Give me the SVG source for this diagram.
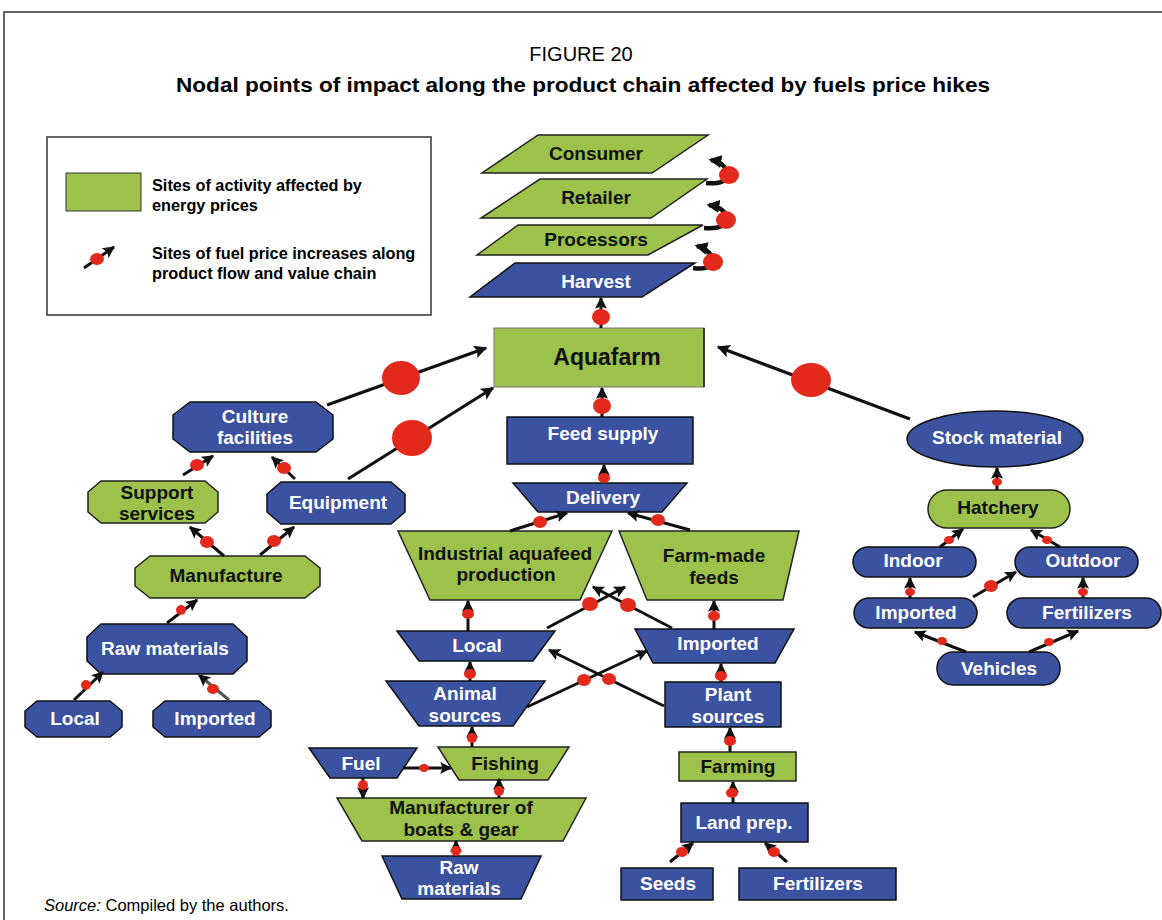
<svg xmlns="http://www.w3.org/2000/svg" width="1162" height="920" viewBox="0 0 1162 920">
<style>
text{font-family:"Liberation Sans",Arial,sans-serif;font-weight:bold;text-anchor:middle}
.t{font-size:19px}
.w{fill:#fff}
.k{fill:#111}
.g{fill:#9DC24B;stroke:#222;stroke-width:1.5}
.b{fill:#3B52A0;stroke:#111;stroke-width:1.5}
.c{stroke:#111;stroke-width:3;fill:none;marker-end:url(#ah)}
.cl{stroke:#111;stroke-width:3.2;fill:none;marker-end:url(#ahL)}
.cc{stroke:#111;stroke-width:4.5;fill:none;marker-end:url(#ahC)}
.d{fill:#E3281C}
</style>
<defs>
<marker id="ah" viewBox="0 0 10 10" refX="9" refY="5" markerWidth="12" markerHeight="12" markerUnits="userSpaceOnUse" orient="auto"><path d="M0,0 L10,5 L0,10 L2,5 z" fill="#111"/></marker>
<marker id="ahL" viewBox="0 0 10 10" refX="9" refY="5" markerWidth="14" markerHeight="13" markerUnits="userSpaceOnUse" orient="auto"><path d="M0,0 L10,5 L0,10 L2,5 z" fill="#111"/></marker>
<marker id="ahC" viewBox="0 0 10 10" refX="8" refY="5" markerWidth="13" markerHeight="13" markerUnits="userSpaceOnUse" orient="auto"><path d="M0,0 L10,5 L0,10 z" fill="#111"/></marker>
</defs>
<rect width="1162" height="920" fill="#fff"/>
<path d="M4,920 L4,12 L1162,12" fill="none" stroke="#333" stroke-width="1.5"/>
<text x="581" y="61" style="font-weight:normal;font-size:20px">FIGURE 20</text>
<text x="583" y="92" style="font-size:21px" textLength="814" lengthAdjust="spacingAndGlyphs">Nodal points of impact along the product chain affected by fuels price hikes</text>

<g id="legend">
<rect x="47" y="137" width="384" height="178" fill="#fff" stroke="#333" stroke-width="1.5"/>
<rect x="66" y="173" width="75" height="38" fill="#9DC24B" stroke="#333" stroke-width="1"/>
<text x="152" y="191" style="font-size:16.3px;text-anchor:start">Sites of activity affected by</text>
<text x="152" y="211" style="font-size:16.3px;text-anchor:start">energy prices</text>
<line x1="84" y1="268" x2="114" y2="247" class="c"/>
<ellipse cx="97" cy="259" rx="7" ry="6" class="d"/>
<text x="152" y="259" style="font-size:16.3px;text-anchor:start">Sites of fuel price increases along</text>
<text x="152" y="279" style="font-size:16.3px;text-anchor:start">product flow and value chain</text>
</g>

<g id="consumer"><path d="M538,135 L708,135 L652,173 L482,173 Z" class="g"/><text x="596" y="160" class="t k">Consumer</text></g>
<g id="retailer"><path d="M540,179 L707,179 L651,218 L481,218 Z" class="g"/><text x="596" y="204" class="t k">Retailer</text></g>
<g id="processors"><path d="M518,225 L703,225 L648,255 L477,255 Z" class="g"/><text x="596" y="246" class="t k">Processors</text></g>
<g id="harvest"><path d="M515,263 L695,263 L642,297 L470,297 Z" class="b"/><text x="596" y="288" class="t w">Harvest</text></g>
<g id="aquafarm"><rect x="494" y="328" width="210" height="59" fill="#9DC24B" stroke="#777" stroke-width="1"/><line x1="704" y1="328" x2="704" y2="387" stroke="#111" stroke-width="1.5"/><text x="607" y="365" class="k" style="font-size:23px">Aquafarm</text></g>
<g id="feed-supply"><rect x="507" y="417" width="186" height="47" class="b"/><text x="603" y="440" class="t w">Feed supply</text></g>
<g id="delivery"><path d="M513,483 L687,483 L662,512 L538,512 Z" class="b"/><text x="603" y="504" class="t w">Delivery</text></g>
<g id="industrial"><path d="M398,531 L612,531 L580,600 L430,600 Z" class="g"/><text x="505" y="560" class="t k">Industrial aquafeed</text><text x="506" y="581" class="t k">production</text></g>
<g id="farm-made"><path d="M619,531 L799,531 L783,600 L647,600 Z" class="g"/><text x="714" y="562" class="t k">Farm-made</text><text x="714" y="584" class="t k">feeds</text></g>
<g id="local-c"><path d="M397,631 L555,631 L533,661 L419,661 Z" class="b"/><text x="477" y="652" class="t w">Local</text></g>
<g id="imported-c"><path d="M635,629 L794,629 L775,663 L653,663 Z" class="b"/><text x="718" y="650" class="t w">Imported</text></g>
<g id="animal"><path d="M386,681 L545,681 L513,726 L419,726 Z" class="b"/><text x="465" y="700" class="t w">Animal</text><text x="465" y="722" class="t w">sources</text></g>
<g id="plant"><rect x="665" y="682" width="116" height="45" class="b"/><text x="728" y="701" class="t w">Plant</text><text x="728" y="723" class="t w">sources</text></g>
<g id="fuel"><path d="M309,748 L417,748 L397,778 L330,778 Z" class="b"/><text x="361" y="770" class="t w">Fuel</text></g>
<g id="fishing"><path d="M438,747 L569,747 L548,780 L459,780 Z" class="g"/><text x="505" y="770" class="t k">Fishing</text></g>
<g id="manufacturer"><path d="M337,798 L586,798 L563,841 L362,841 Z" class="g"/><text x="461" y="814" class="t k">Manufacturer of</text><text x="461" y="836" class="t k">boats &amp; gear</text></g>
<g id="raw-c"><path d="M382,856 L541,856 L521,899 L402,899 Z" class="b"/><text x="459" y="874" class="t w">Raw</text><text x="459" y="895" class="t w">materials</text></g>
<g id="farming"><rect x="679" y="752" width="117" height="29" class="g"/><text x="738" y="773" class="t k">Farming</text></g>
<g id="land-prep"><rect x="681" y="803" width="127" height="39" class="b"/><text x="744" y="829" class="t w">Land prep.</text></g>
<g id="seeds"><rect x="621" y="868" width="92" height="32" class="b"/><text x="668" y="890" class="t w">Seeds</text></g>
<g id="fertilizers-c"><rect x="739" y="868" width="157" height="32" class="b"/><text x="818" y="890" class="t w">Fertilizers</text></g>

<g id="culture"><path d="M190,402 L316,402 L333,415 L333,439 L316,452 L190,452 L173,439 L173,415 Z" class="b"/><text x="255" y="423" class="t w">Culture</text><text x="255" y="444" class="t w">facilities</text></g>
<g id="support"><path d="M101,481 L205,481 L218,492 L218,512 L205,523 L101,523 L88,512 L88,492 Z" class="g"/><text x="157" y="499" class="t k">Support</text><text x="157" y="520" class="t k">services</text></g>
<g id="equipment"><path d="M281,482 L391,482 L405,494 L405,512 L391,524 L281,524 L267,512 L267,494 Z" class="b"/><text x="338" y="509" class="t w">Equipment</text></g>
<g id="manufacture"><path d="M150,556 L305,556 L320,568 L320,586 L305,598 L150,598 L135,586 L135,568 Z" class="g"/><text x="226" y="582" class="t k">Manufacture</text></g>
<g id="raw-l"><path d="M101,624 L233,624 L247,637 L247,661 L233,674 L101,674 L87,661 L87,637 Z" class="b"/><text x="165" y="655" class="t w">Raw materials</text></g>
<g id="local-l"><path d="M37,701 L110,701 L122,711 L122,727 L110,737 L37,737 L25,727 L25,711 Z" class="b"/><text x="75" y="725" class="t w">Local</text></g>
<g id="imported-l"><path d="M165,701 L259,701 L271,711 L271,727 L259,737 L165,737 L153,727 L153,711 Z" class="b"/><text x="215" y="725" class="t w">Imported</text></g>

<g id="stock"><ellipse cx="995" cy="439" rx="88" ry="28" class="b"/><text x="997" y="444" class="t w">Stock material</text></g>
<g id="hatchery"><rect x="928" y="490" width="142" height="38" rx="19" class="g"/><text x="998" y="514" class="t k">Hatchery</text></g>
<g id="indoor"><rect x="853" y="547" width="123" height="30" rx="15" class="b"/><text x="913" y="567" class="t w">Indoor</text></g>
<g id="outdoor"><rect x="1015" y="547" width="123" height="30" rx="15" class="b"/><text x="1083" y="567" class="t w">Outdoor</text></g>
<g id="imported-r"><rect x="854" y="598" width="123" height="30" rx="15" class="b"/><text x="916" y="619" class="t w">Imported</text></g>
<g id="fertilizers-r"><rect x="1007" y="598" width="154" height="30" rx="15" class="b"/><text x="1087" y="619" class="t w">Fertilizers</text></g>
<g id="vehicles"><rect x="937" y="652" width="123" height="33" rx="16" class="b"/><text x="999" y="675" class="t w">Vehicles</text></g>

<g id="connectors">
<path d="M706,183 Q729,185 727,172 Q724,162 711,160" class="cc"/>
<path d="M704,228 Q728,230 726,216 Q723,207 709,205" class="cc"/>
<path d="M693,268 Q714,271 712,258 Q709,249 697,246" class="cc"/>
<line x1="601" y1="328" x2="601" y2="298" class="c"/>
<line x1="602" y1="417" x2="602" y2="388" class="c"/>
<line x1="604" y1="483" x2="604" y2="465" class="c"/>
<line x1="510" y1="531" x2="567" y2="513" class="c"/>
<line x1="690" y1="530" x2="628" y2="513" class="c"/>
<line x1="468" y1="631" x2="468" y2="601" class="c"/>
<line x1="714" y1="629" x2="714" y2="601" class="c"/>
<line x1="547" y1="628" x2="625" y2="587" class="c"/>
<line x1="672" y1="628" x2="593" y2="587" class="c"/>
<line x1="470" y1="681" x2="470" y2="662" class="c"/>
<line x1="721" y1="682" x2="721" y2="664" class="c"/>
<line x1="527" y1="707" x2="647" y2="651" class="c"/>
<line x1="664" y1="706" x2="549" y2="650" class="c"/>
<line x1="403" y1="768" x2="451" y2="768" class="c"/>
<line x1="472" y1="747" x2="472" y2="727" class="c"/>
<line x1="363" y1="778" x2="363" y2="798" class="c"/>
<line x1="499" y1="798" x2="499" y2="779" class="c"/>
<line x1="456" y1="856" x2="456" y2="841" class="c"/>
<line x1="730" y1="752" x2="730" y2="728" class="c"/>
<line x1="733" y1="803" x2="733" y2="782" class="c"/>
<line x1="670" y1="862" x2="693" y2="843" class="c"/>
<line x1="787" y1="862" x2="765" y2="843" class="c"/>
<line x1="183" y1="475" x2="213" y2="456" class="c"/>
<line x1="295" y1="479" x2="272" y2="457" class="c"/>
<line x1="224" y1="556" x2="190" y2="527" class="c"/>
<line x1="260" y1="555" x2="294" y2="527" class="c"/>
<line x1="327" y1="405" x2="486" y2="348" class="cl"/>
<line x1="348" y1="479" x2="493" y2="388" class="cl"/>
<line x1="167" y1="623" x2="197" y2="600" class="c"/>
<line x1="74" y1="700" x2="103" y2="672" class="c"/>
<line x1="229" y1="700" x2="199" y2="675" class="c" style="stroke:#555"/>
<line x1="910" y1="419" x2="718" y2="347" class="cl"/>
<line x1="997" y1="490" x2="997" y2="468" class="c"/>
<line x1="940" y1="547" x2="963" y2="529" class="c"/>
<line x1="1060" y1="547" x2="1031" y2="530" class="c"/>
<line x1="910" y1="598" x2="910" y2="578" class="c"/>
<line x1="1083" y1="598" x2="1083" y2="578" class="c"/>
<line x1="973" y1="597" x2="1016" y2="572" class="c"/>
<line x1="966" y1="652" x2="915" y2="632" class="c"/>
<line x1="1029" y1="652" x2="1078" y2="631" class="c"/>
<ellipse cx="729" cy="175" rx="10" ry="9" class="d"/>
<ellipse cx="726" cy="220" rx="10" ry="9" class="d"/>
<ellipse cx="713" cy="262" rx="10" ry="9" class="d"/>
<ellipse cx="601" cy="317" rx="9" ry="8" class="d"/>
<ellipse cx="602" cy="406" rx="9" ry="8" class="d"/>
<ellipse cx="604" cy="478" rx="6" ry="5" class="d"/>
<ellipse cx="540" cy="522" rx="7" ry="6" class="d"/>
<ellipse cx="658" cy="520" rx="7" ry="6" class="d"/>
<ellipse cx="468" cy="614" rx="6" ry="5" class="d"/>
<ellipse cx="714" cy="616" rx="6" ry="5" class="d"/>
<ellipse cx="590" cy="604" rx="8" ry="7" class="d"/>
<ellipse cx="628" cy="605" rx="8" ry="7" class="d"/>
<ellipse cx="470" cy="674" rx="6" ry="5" class="d"/>
<ellipse cx="721" cy="676" rx="6" ry="5" class="d"/>
<ellipse cx="584" cy="680" rx="7" ry="6" class="d"/>
<ellipse cx="609" cy="679" rx="7" ry="6" class="d"/>
<ellipse cx="424" cy="768" rx="5" ry="4" class="d"/>
<ellipse cx="472" cy="738" rx="5" ry="5" class="d"/>
<ellipse cx="363" cy="785" rx="5" ry="5" class="d"/>
<ellipse cx="499" cy="791" rx="5" ry="5" class="d"/>
<ellipse cx="456" cy="851" rx="5" ry="5" class="d"/>
<ellipse cx="730" cy="741" rx="6" ry="5" class="d"/>
<ellipse cx="732" cy="793" rx="6" ry="5" class="d"/>
<ellipse cx="682" cy="852" rx="6" ry="5" class="d"/>
<ellipse cx="774" cy="852" rx="6" ry="5" class="d"/>
<ellipse cx="197" cy="465" rx="7" ry="6" class="d"/>
<ellipse cx="284" cy="468" rx="7" ry="6" class="d"/>
<ellipse cx="207" cy="542" rx="7" ry="6" class="d"/>
<ellipse cx="274" cy="541" rx="7" ry="6" class="d"/>
<ellipse cx="401" cy="378" rx="19" ry="17" class="d"/>
<ellipse cx="412" cy="438" rx="20" ry="18" class="d"/>
<ellipse cx="181" cy="610" rx="5" ry="5" class="d"/>
<ellipse cx="86" cy="685" rx="5" ry="5" class="d"/>
<ellipse cx="213" cy="689" rx="6" ry="5" class="d"/>
<ellipse cx="811" cy="380" rx="20" ry="17" class="d"/>
<ellipse cx="997" cy="482" rx="5" ry="4" class="d"/>
<ellipse cx="949" cy="540" rx="5" ry="4" class="d"/>
<ellipse cx="1047" cy="540" rx="5" ry="4" class="d"/>
<ellipse cx="910" cy="592" rx="5" ry="4" class="d"/>
<ellipse cx="1083" cy="592" rx="5" ry="4" class="d"/>
<ellipse cx="991" cy="586" rx="7" ry="6" class="d"/>
<ellipse cx="942" cy="641" rx="5" ry="4" class="d"/>
<ellipse cx="1049" cy="642" rx="5" ry="4" class="d"/>
</g>
<text x="44" y="911" style="font-weight:normal;font-size:16.5px;text-anchor:start"><tspan style="font-style:italic">Source:</tspan> Compiled by the authors.</text>
</svg>
